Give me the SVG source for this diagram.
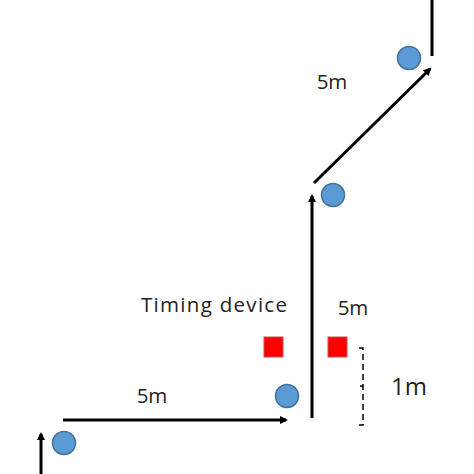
<svg xmlns="http://www.w3.org/2000/svg" width="474" height="474" viewBox="0 0 474 474">
<style>
.ln{stroke:#000;stroke-width:3;fill:none}
.c{fill:#5b9bd5;stroke:#41719c;stroke-width:1.5}
.r{fill:#ff0000;stroke:#c0504d;stroke-width:1}
.t{font-family:"Open Sans","Liberation Sans",sans-serif;font-size:20.5px;fill:#222}
</style>
<defs>
<marker id="ah" markerWidth="10" markerHeight="10" refX="6" refY="5" orient="auto" markerUnits="userSpaceOnUse">
<path d="M0,1 L8,5 L0,9 Z" fill="#000"/>
</marker>
</defs>
<rect width="474" height="474" fill="#fff"/>
<g id="connectors">
<line class="ln" x1="41" y1="474" x2="41" y2="434" marker-end="url(#ah)"/>
<line class="ln" x1="63" y1="420" x2="286" y2="420" marker-end="url(#ah)"/>
<line class="ln" x1="312" y1="418" x2="312" y2="196" marker-end="url(#ah)"/>
<line class="ln" x1="314" y1="183" x2="430" y2="69" marker-end="url(#ah)"/>
<line class="ln" x1="432" y1="0" x2="432" y2="56"/>
<path d="M359,348 L363,348 L363,425 L359,425 M363,386 L360,386" fill="none" stroke="#000" stroke-width="1.5" stroke-dasharray="6,4"/>
</g>
<g id="circle1"><circle class="c" cx="64" cy="443" r="11.5"/></g>
<g id="circle2"><circle class="c" cx="287" cy="396" r="11.5"/></g>
<g id="circle3"><circle class="c" cx="333" cy="195" r="11.5"/></g>
<g id="circle4"><circle class="c" cx="409" cy="58" r="11.5"/></g>
<g id="timer1"><rect class="r" x="264" y="337" width="19" height="20"/></g>
<g id="timer2"><rect class="r" x="328" y="337" width="19" height="20"/></g>
<g id="labels">
<text class="t" x="152" y="403" text-anchor="middle">5m</text>
<text class="t" x="332" y="89" text-anchor="middle">5m</text>
<text class="t" x="353" y="315" text-anchor="middle">5m</text>
<text class="t" x="141" y="312" textLength="146" lengthAdjust="spacing">Timing  device</text>
<text class="t" x="409" y="395" text-anchor="middle" style="font-size:24px">1m</text>
</g>
</svg>
